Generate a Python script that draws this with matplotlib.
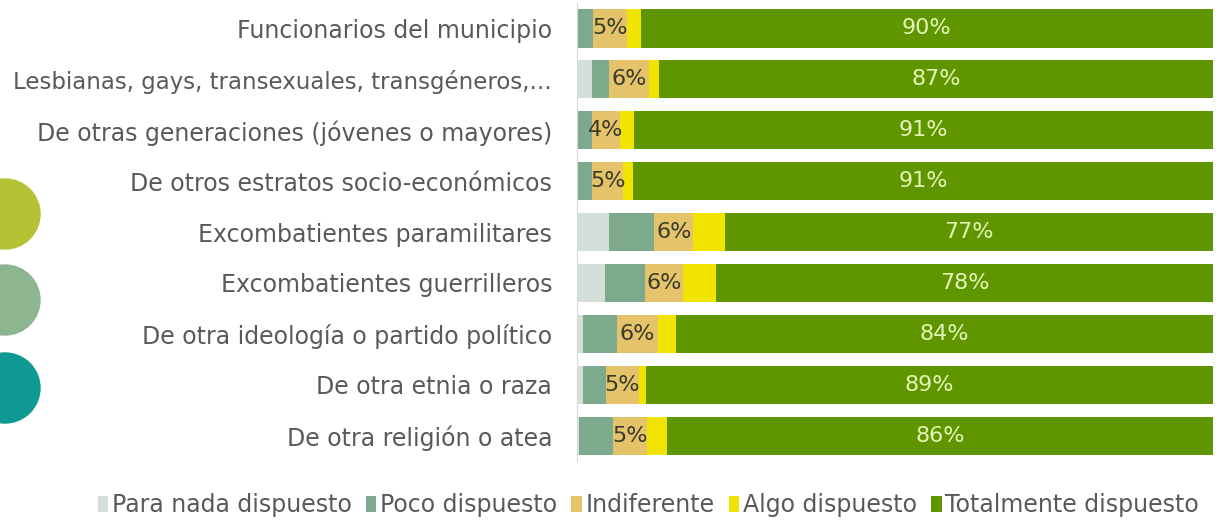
import matplotlib.pyplot as plt
import matplotlib.patches as mpatches
import matplotlib.transforms as mtransforms
import numpy as np

plt.rcParams['font.family'] = ['DejaVu Sans']

# categories, top to bottom
categories = [
    "Funcionarios del municipio",
    "Lesbianas, gays, transexuales, transgéneros,...",
    "De otras generaciones (jóvenes o mayores)",
    "De otros estratos socio-económicos",
    "Excombatientes paramilitares",
    "Excombatientes guerrilleros",
    "De otra ideología o partido político",
    "De otra etnia o raza",
    "De otra religión o atea",
]

series_names = ["Para nada dispuesto", "Poco dispuesto", "Indiferente",
                "Algo dispuesto", "Totalmente dispuesto"]

para_nada = [0.0, 2.4, 0.0, 0.0, 5.1, 4.4, 1.0, 1.0, 0.3]
poco = [2.5, 2.7, 2.4, 2.4, 7.0, 6.3, 5.3, 3.5, 5.3]
indiferente = [5.4, 6.2, 4.3, 4.9, 6.2, 6.0, 6.4, 5.3, 5.4]
algo = [2.1, 1.6, 2.3, 1.5, 4.9, 5.2, 2.9, 1.1, 3.1]
totalmente = [90.0, 87.1, 91.0, 91.2, 76.8, 78.1, 84.4, 89.1, 85.9]

colors = ["#d3dfd8", "#7daa8c", "#e5c36a", "#f1e400", "#5f9600"]

fig = plt.figure(figsize=(12.21, 5.3), dpi=100)
ax = fig.add_axes([0.4726, 0.130, 0.5208, 0.8643])

data = [para_nada, poco, indiferente, algo, totalmente]
y = np.arange(len(categories))
left = np.zeros(len(categories))
bars = []
for vals, col, name in zip(data, colors, series_names):
    vals = np.array(vals)
    ax.barh(y, vals, left=left, height=0.75, color=col, label=name)
    bars.append((vals, left.copy()))
    left += vals

# labels for Indiferente and Totalmente dispuesto
for (vals, lft), txtcol in [(bars[2], "#3a3a2a"), (bars[4], "#e4f5b8")]:
    for yi, v, l in zip(y, vals, lft):
        ax.text(l + v / 2, yi, f"{v:.0f}%", ha="center", va="center",
                fontsize=16, color=txtcol)

ax.set_xlim(0, 100)
ax.set_ylim(len(categories) - 0.5, -0.5)
ax.set_yticks(y)
ax.set_yticklabels(categories, fontsize=17, color="#595959")
ax.tick_params(axis="y", length=0, pad=18)
# the long label would get cut at the left edge
ax.get_yticklabels()[1].set_fontsize(16.5)
ax.set_xticks([])
for s in ["top", "right", "bottom"]:
    ax.spines[s].set_visible(False)
ax.spines["left"].set_color("#d9d9d9")

fig.legend(loc="center", bbox_to_anchor=(0.531, 0.047), ncol=5, frameon=False,
           fontsize=17, labelcolor="#595959", handlelength=0.45, handleheight=0.7,
           handletextpad=0.15, columnspacing=0.6)

# decorative circles on the left edge
circle_colors = ["#b5c234", "#8cb590", "#0e9a92"]
circle_y = [214, 300, 388]
for cy, cc in zip(circle_y, circle_colors):
    c = mpatches.Circle((5, 530 - cy), 35, color=cc,
                        transform=mtransforms.IdentityTransform())
    fig.add_artist(c)

fig.savefig("out.png", dpi=100)
